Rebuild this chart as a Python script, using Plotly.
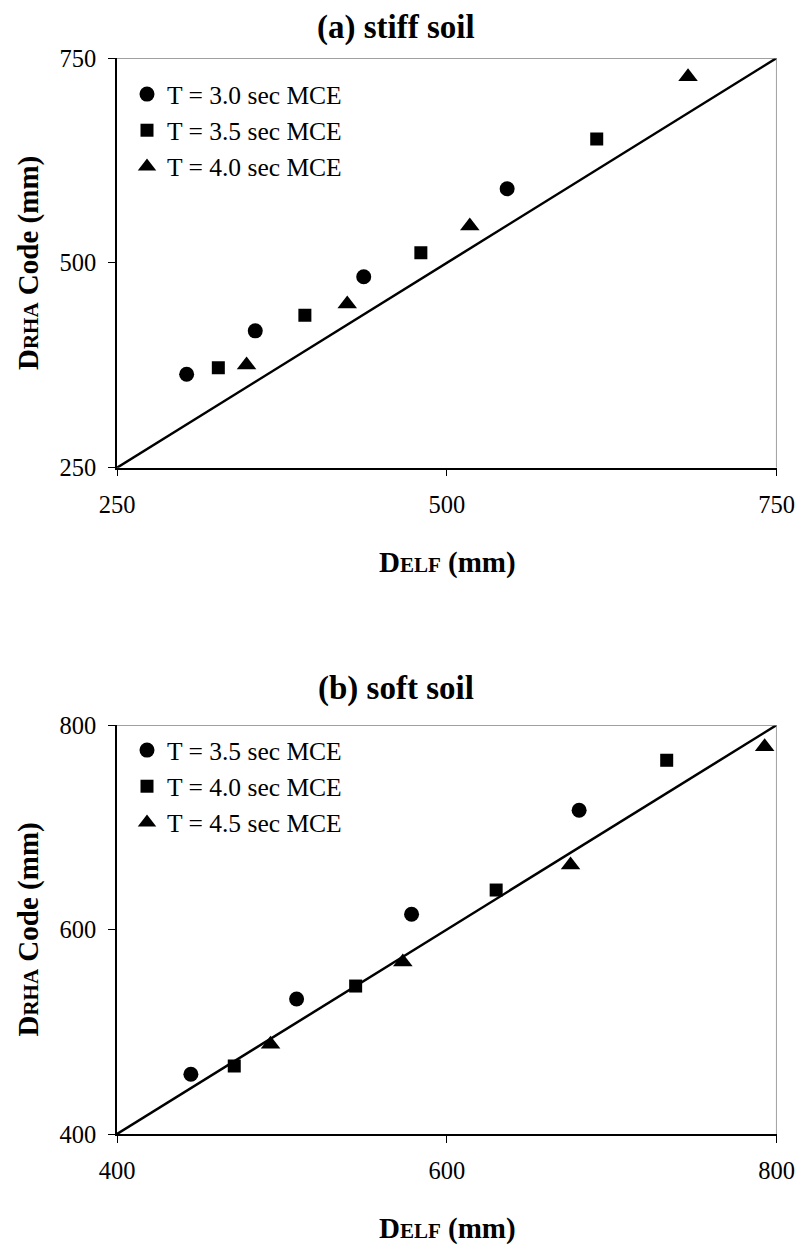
import plotly.graph_objects as go

W, H = 799, 1247

# ---------------- data ----------------
# (a) stiff soil
a_names = ["T = 3.0 sec MCE", "T = 3.5 sec MCE", "T = 4.0 sec MCE"]
a_x_t30 = [302.8, 354.8, 437.0, 545.7]
a_y_t30 = [364.0, 417.0, 483.0, 590.5]
a_x_t35 = [326.8, 392.4, 480.3, 613.6]
a_y_t35 = [372.0, 436.0, 512.4, 651.0]
a_x_t40 = [348.2, 424.5, 517.4, 682.8]
a_y_t40 = [375.3, 449.8, 545.0, 727.0]
a_line = [250, 750]
a_ticks = [250, 500, 750]

# (b) soft soil
b_names = ["T = 3.5 sec MCE", "T = 4.0 sec MCE", "T = 4.5 sec MCE"]
b_x_t35 = [444.8, 508.9, 578.6, 680.2]
b_y_t35 = [458.4, 532.0, 614.9, 716.6]
b_x_t40 = [471.1, 544.7, 629.9, 733.3]
b_y_t40 = [466.5, 544.7, 638.6, 765.5]
b_x_t45 = [493.1, 573.3, 675.0, 792.7]
b_y_t45 = [487.7, 568.2, 663.0, 778.8]
b_line = [400, 800]
b_ticks = [400, 600, 800]

FONT = "Liberation Serif"

fig = go.Figure()

symbols = ["circle", "square", "triangle-up"]
sizes = [15, 13, 17]

def add_panel(xs, ys, names, line, xa, ya, leg):
    fig.add_trace(go.Scatter(x=line, y=line, mode="lines",
                             line=dict(color="black", width=2.5),
                             showlegend=False, hoverinfo="skip",
                             xaxis=xa, yaxis=ya))
    for x, y, n, s, sz in zip(xs, ys, names, symbols, sizes):
        fig.add_trace(go.Scatter(x=x, y=y, mode="markers", name=n,
                                 marker=dict(symbol=s, size=sz, color="black"),
                                 xaxis=xa, yaxis=ya, legend=leg))

add_panel([a_x_t30, a_x_t35, a_x_t40], [a_y_t30, a_y_t35, a_y_t40],
          a_names, a_line, "x", "y", "legend")
add_panel([b_x_t35, b_x_t40, b_x_t45], [b_y_t35, b_y_t40, b_y_t45],
          b_names, b_line, "x2", "y2", "legend2")

def px_x(p):
    return p / W

def px_y(p):
    return 1 - p / H

xdom = [px_x(117), px_x(776.7)]
ax_common = dict(showline=True, linecolor="black", linewidth=1.5,
                 ticks="outside", ticklen=7, tickwidth=1, tickcolor="black",
                 showgrid=False, zeroline=False, automargin=False,
                 tickfont=dict(family=FONT, size=24.5, color="black"))

fig.update_layout(
    width=W, height=H,
    margin=dict(l=0, r=0, t=0, b=0, pad=0, autoexpand=False),
    paper_bgcolor="white", plot_bgcolor="white",
    font=dict(family=FONT, color="black"),
    xaxis=dict(domain=xdom, range=[a_line[0], a_line[1]], tickvals=a_ticks,
               anchor="y", ticklabelstandoff=7, **ax_common),
    yaxis=dict(domain=[px_y(467.7), px_y(58)], range=[a_line[0], a_line[1]],
               tickvals=a_ticks, anchor="x", ticklabelstandoff=7, **ax_common),
    xaxis2=dict(domain=xdom, range=[b_line[0], b_line[1]], tickvals=b_ticks,
                anchor="y2", ticklabelstandoff=7, **ax_common),
    yaxis2=dict(domain=[px_y(1134), px_y(725)], range=[b_line[0], b_line[1]],
                tickvals=b_ticks, anchor="x2", ticklabelstandoff=7, **ax_common),
    legend=dict(x=px_x(127), y=px_y(71), xanchor="left", yanchor="top",
                bgcolor="rgba(0,0,0,0)", font=dict(family=FONT, size=25.5, color="black")),
    legend2=dict(x=px_x(127), y=px_y(727), xanchor="left", yanchor="top",
                 bgcolor="rgba(0,0,0,0)", font=dict(family=FONT, size=25.5, color="black")),
)

# grey top/right borders of the plot areas
for xr, yr, lo, hi in [("x", "y", a_line[0], a_line[1]), ("x2", "y2", b_line[0], b_line[1])]:
    fig.add_shape(type="line", xref=xr, yref=yr, x0=lo, x1=hi, y0=hi, y1=hi,
                  line=dict(color="#808080", width=1.5))
    fig.add_shape(type="line", xref=xr, yref=yr, x0=hi, x1=hi, y0=lo, y1=hi,
                  line=dict(color="#808080", width=1.5))

ytitle = "<b>D<span style='font-size:21px'>RHA</span> Code (mm)</b>"
xtitle = "<b>D<span style='font-size:21px'>ELF</span> (mm)</b>"
annos = [
    ("<b>(a) stiff soil</b>", 396, 27.5, 0, 33),
    ("<b>(b) soft soil</b>", 396, 688, 0, 33),
    (ytitle, 28, 263, -90, 29),
    (ytitle, 28, 929.5, -90, 29),
    (xtitle, 447, 562, 0, 29),
    (xtitle, 447, 1228, 0, 29),
]
for t, x, y, ang, sz in annos:
    fig.add_annotation(text=t, xref="paper", yref="paper", x=px_x(x), y=px_y(y),
                       xanchor="center", yanchor="middle", showarrow=False,
                       textangle=ang, font=dict(family=FONT, size=sz, color="black"))

fig.write_html("out.html")
